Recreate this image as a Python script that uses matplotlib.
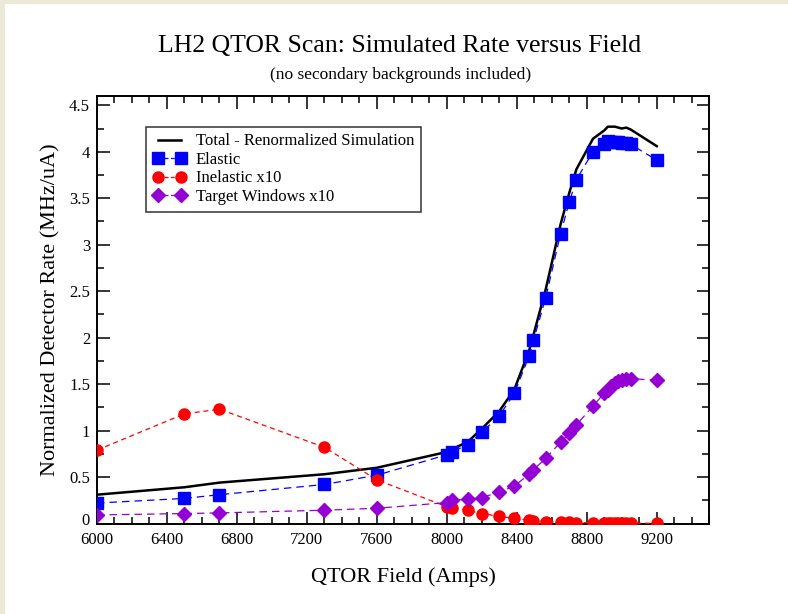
import matplotlib
matplotlib.use("Agg")
import matplotlib.pyplot as plt
from matplotlib.lines import Line2D
from matplotlib.patches import Rectangle
from matplotlib.ticker import MultipleLocator
from matplotlib.transforms import ScaledTranslation

plt.rcParams['font.family'] = ['Liberation Serif', 'DejaVu Serif']

# QTOR current settings (Amps)
field = [6000, 6500, 6700, 7300, 7600, 8000, 8030, 8120, 8200, 8300, 8385,
         8470, 8495, 8565, 8650, 8700, 8740, 8835, 8900, 8920, 8940, 8960,
         8980, 9000, 9025, 9050, 9200]

# Rates (MHz/uA)
total = [0.31, 0.39, 0.44, 0.53, 0.60, 0.77, 0.80, 0.88, 1.02, 1.21, 1.44,
         1.86, 2.03, 2.52, 3.22, 3.56, 3.81, 4.14, 4.23, 4.27, 4.27, 4.27,
         4.26, 4.25, 4.26, 4.24, 4.06]
elastic = [0.22, 0.27, 0.31, 0.42, 0.52, 0.74, 0.77, 0.85, 0.98, 1.16, 1.40,
           1.80, 1.97, 2.43, 3.12, 3.46, 3.70, 4.00, 4.08, 4.12, 4.11, 4.11,
           4.10, 4.095, 4.09, 4.08, 3.91]
inelastic_x10 = [0.79, 1.18, 1.23, 0.82, 0.47, 0.18, 0.17, 0.14, 0.107, 0.077,
                 0.055, 0.037, 0.032, 0.021, 0.014, 0.012, 0.010, 0.008, 0.006,
                 0.006, 0.005, 0.005, 0.005, 0.004, 0.004, 0.004, 0.002]
windows_x10 = [0.092, 0.107, 0.114, 0.143, 0.164, 0.225, 0.25, 0.26, 0.279,
               0.339, 0.403, 0.53, 0.58, 0.70, 0.876, 0.969, 1.062, 1.262,
               1.405, 1.44, 1.48, 1.51, 1.53, 1.545, 1.555, 1.56, 1.54]

labels = ["Total - Renormalized Simulation", "Elastic", "Inelastic x10",
          "Target Windows x10"]

W, H = 788, 614
fig = plt.figure(figsize=(W / 100, H / 100), dpi=100)
fig.patch.set_facecolor('white')

# page border strips
beige = '#ECE9D8'
fig.add_artist(Rectangle((0, 0), 5 / W, 1, transform=fig.transFigure,
                         facecolor=beige, edgecolor='none', zorder=-10))
fig.add_artist(Rectangle((0, 1 - 4 / H), 1, 4 / H, transform=fig.transFigure,
                         facecolor=beige, edgecolor='none', zorder=-10))

left, right = 97 / W, 709.3 / W
bottom, top = 1 - 523.5 / H, 1 - 96 / H
ax = fig.add_axes([left, bottom, right - left, top - bottom])

ax.plot(field, total, color='black', lw=1.8, label=labels[0], zorder=3)
ax.plot(field, elastic, color='#0000FF', lw=0.9, ls=(0, (6, 4)),
        marker='s', ms=8, mec='#0000FF', mfc='#0000FF', label=labels[1], zorder=4)
ax.plot(field, inelastic_x10, color='#FF0000', lw=0.9, ls=(0, (4, 3)),
        marker='o', ms=8, mec='#FF0000', mfc='#FF0000', label=labels[2], zorder=5)
ax.plot(field, windows_x10, color='#9400D3', lw=0.9, ls=(0, (6, 4)),
        marker='D', ms=7, mec='#9400D3', mfc='#9400D3', label=labels[3], zorder=6)

ax.set_xlim(6000, 9500)
ax.set_ylim(0, 4.6)
ax.xaxis.set_minor_locator(MultipleLocator(100))
ax.yaxis.set_minor_locator(MultipleLocator(0.25))
ax.set_xticks([6000, 6400, 6800, 7200, 7600, 8000, 8400, 8800, 9200])
ax.set_yticks([0, 0.5, 1, 1.5, 2, 2.5, 3, 3.5, 4, 4.5])
ax.set_yticklabels(['0', '0.5', '1', '1.5', '2', '2.5', '3', '3.5', '4', '4.5'])

ax.tick_params(which='both', direction='in', top=True, right=True,
               labelsize=12, width=1.1)
ax.tick_params(which='major', length=9)
ax.tick_params(which='minor', length=4.7)
ax.tick_params(axis='x', pad=6)
ax.tick_params(axis='y', pad=5)
for s in ax.spines.values():
    s.set_linewidth(1.4)

# lift the "0" label a little so it clears the first field label
zero_label = ax.get_yticklabels()[0]
zero_label.set_transform(zero_label.get_transform() +
                         ScaledTranslation(0, 3 / 72, fig.dpi_scale_trans))

ax.set_xlabel("QTOR Field (Amps)", fontsize=16, labelpad=14)
ax.set_ylabel("Normalized Detector Rate (MHz/uA)", fontsize=16, labelpad=6)

fig.text(400 / W, 1 - 46 / H, "LH2 QTOR Scan: Simulated Rate versus Field",
         ha='center', va='center', fontsize=18.5)
fig.text(401 / W, 1 - 75 / H, "(no secondary backgrounds included)",
         ha='center', va='center', fontsize=12.5)

handles = [
    Line2D([], [], color='black', lw=1.8),
    Line2D([], [], color='#0000FF', lw=0.9, ls=(0, (3, 2)), marker='s', ms=8),
    Line2D([], [], color='#FF0000', lw=0.9, ls=(0, (3, 2)), marker='o', ms=8),
    Line2D([], [], color='#9400D3', lw=0.9, ls=(0, (3, 2)), marker='D', ms=7),
]
leg = ax.legend(handles, labels, loc='upper left',
                bbox_to_anchor=(146 / W, 1 - 126.7 / H),
                bbox_transform=fig.transFigure, fontsize=12, numpoints=2,
                frameon=True, fancybox=False, borderaxespad=0,
                handlelength=2.0, handletextpad=0.6, labelspacing=0.15,
                borderpad=0.4)
leg.get_frame().set_edgecolor('black')
leg.get_frame().set_linewidth(1.1)

fig.savefig("out.png", dpi=100, facecolor=fig.get_facecolor())
